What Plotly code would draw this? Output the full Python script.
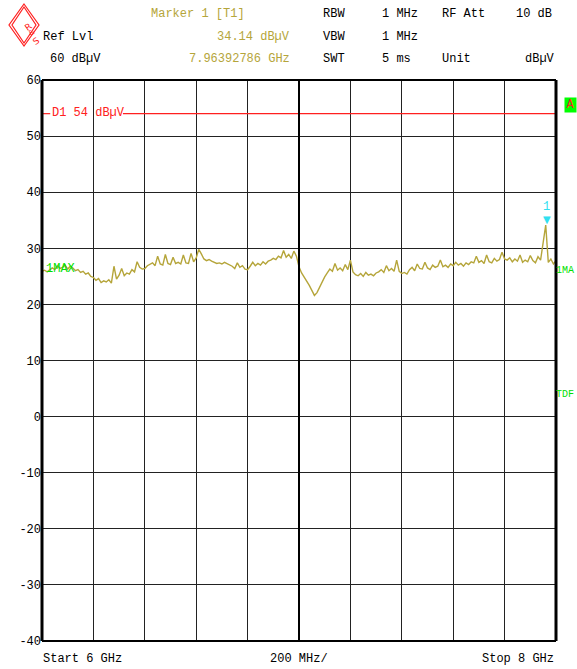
import numpy as np
import plotly.graph_objects as go

# ---------------- data ----------------
start_ghz = 6.0
stop_ghz = 8.0
y_min, y_max = -40, 60
y_ticks = [60, 50, 40, 30, 20, 10, 0, -10, -20, -30, -40]
display_line_db = 54
marker_freq_ghz = 7.96392786
marker_level = 34.14

level_dbuv = [
    25.9, 26.1, 25.8, 26.2, 26.5, 26.2, 26.9, 26.4, 26.6, 27.0,
    26.3, 26.8, 26.5, 26.0, 26.2, 25.7, 25.9, 25.4, 25.6, 25.0,
    24.8, 24.3, 24.6, 23.9, 24.2, 24.0, 24.4, 23.8, 26.8, 24.5,
    25.2, 26.4, 25.1, 25.6, 25.4, 26.2, 25.8, 27.6, 26.6, 26.3,
    26.4, 26.9, 27.1, 27.4, 26.9, 28.6, 27.2, 27.0, 28.9, 27.3,
    27.1, 28.4, 27.3, 27.5, 27.2, 28.8, 27.4, 27.3, 29.1, 27.6,
    28.3, 29.8, 29.0, 28.1, 27.8, 28.0, 27.7, 27.5, 27.3, 27.4,
    27.2, 27.5, 27.3, 27.1, 26.8, 26.4, 27.4, 26.6, 26.9, 26.3,
    26.2, 26.8, 27.5, 26.9, 27.3, 27.0, 27.6, 27.2, 27.7, 27.9,
    28.2, 28.0, 28.6, 28.3, 29.6, 28.4, 28.9, 28.2, 29.5, 28.6,
    26.7, 25.6, 24.9, 24.2, 23.4, 22.5, 21.6, 22.1, 23.1, 24.2,
    24.9, 25.6, 26.3, 25.9, 27.3, 26.1, 26.5, 26.0, 27.1, 26.2,
    27.9, 25.8, 25.3, 25.1, 25.5, 25.0, 25.7, 25.2, 25.4, 25.1,
    25.6, 25.8, 26.2, 25.7, 26.9, 26.0, 26.4, 25.9, 27.9, 25.9,
    25.5, 25.7, 25.4, 26.2, 26.6, 26.0, 27.2, 26.4, 26.3, 27.5,
    26.5, 26.2, 27.0, 26.6, 26.8, 27.9, 26.7, 27.0, 26.6, 27.2,
    26.9, 27.5, 27.0, 27.3, 26.8, 27.4, 27.1, 27.6, 27.4, 28.6,
    27.5, 27.8, 27.3, 28.8, 27.6, 27.4, 28.2, 27.7, 28.0, 29.3,
    28.1, 27.9, 28.3, 27.6, 28.1, 27.7, 28.8, 27.5, 27.9, 27.6,
    28.7, 27.8, 27.4, 28.5, 27.9, 31.0, 34.14, 27.5, 28.1, 27.2,
    27.8,
]
freq_ghz = np.linspace(start_ghz, stop_ghz, len(level_dbuv))

# ---------------- layout helpers ----------------
W, H = 577, 669
L, R, T, B = 42, 556, 80, 641


def px(x):
    return (x - L) / (R - L)


def py(y):
    return (B - y) / (B - T)


FONT = "Liberation Mono, DejaVu Sans Mono, monospace"
OLIVE = "#b5a53a"
BLACK = "#000000"
GREEN = "#00e000"
RED = "#ff2020"
CYAN = "#30e0f0"

fig = go.Figure()

# display line D1
fig.add_trace(go.Scatter(
    x=[start_ghz, start_ghz + 0.032, None, start_ghz + 0.315, stop_ghz],
    y=[display_line_db, display_line_db, None, display_line_db, display_line_db],
    mode="lines", line=dict(color=RED, width=1.2), hoverinfo="skip", showlegend=False,
))

# trace
fig.add_trace(go.Scatter(
    x=freq_ghz, y=level_dbuv, mode="lines",
    line=dict(color=OLIVE, width=1.4), showlegend=False,
))

ann = []


def text(x, y, s, color=BLACK, xanchor="left", size=12, yanchor="middle", **kw):
    ann.append(dict(x=px(x), y=py(y), xref="paper", yref="paper", text=s,
                    showarrow=False, xanchor=xanchor, yanchor=yanchor,
                    font=dict(family=FONT, size=size, color=color), **kw))


# header
text(149, 14, "Marker 1 [T1]", OLIVE)
text(41, 37, "Ref Lvl")
text(292, 37, "34.14 dBµV", OLIVE, xanchor="right")
text(48, 59, "60 dBµV")
text(292, 59, "7.96392786 GHz", OLIVE, xanchor="right")
text(321, 14, "RBW")
text(380, 14, "1 MHz")
text(440, 14, "RF Att")
text(514, 14, "10 dB")
text(321, 37, "VBW")
text(380, 37, "1 MHz")
text(321, 59, "SWT")
text(380, 59, "5 ms")
text(440, 59, "Unit")
text(557, 59, "dBµV", xanchor="right")

# footer
text(41, 659, "Start 6 GHz")
text(299, 659, "200 MHz/", xanchor="center")
text(556, 659, "Stop 8 GHz", xanchor="right")

# in-plot labels
text(50, 113, "D1 54 dBµV", RED)
text(44, 269, "1MAX", GREEN)
text(576, 270, "1MA", GREEN, xanchor="right", size=10)
text(576, 394, "TDF", GREEN, xanchor="right", size=10)
ann.append(dict(x=px(570), y=py(105), xref="paper", yref="paper", text="A",
                showarrow=False, xanchor="center", yanchor="middle",
                font=dict(family=FONT, size=12, color="#ff2020"),
                bgcolor="#00ff00", width=11, height=14, borderpad=0))

# marker symbol
ann.append(dict(x=marker_freq_ghz, y=marker_level, xref="x", yref="y", text="▼",
                showarrow=False, xanchor="center", yanchor="bottom", yshift=-2,
                font=dict(family="DejaVu Sans", size=10, color=CYAN)))
ann.append(dict(x=marker_freq_ghz, y=marker_level, xref="x", yref="y", text="1",
                showarrow=False, xanchor="center", yanchor="bottom", yshift=9,
                font=dict(family=FONT, size=12, color=CYAN)))

# R&S logo
ann.append(dict(x=px(20), y=py(18), xref="paper", yref="paper", text="R",
                showarrow=False, textangle=-35,
                font=dict(family="DejaVu Sans", size=9, color=RED)))
ann.append(dict(x=px(24), y=py(25), xref="paper", yref="paper", text="&",
                showarrow=False, textangle=-35,
                font=dict(family="DejaVu Sans", size=7, color=RED)))
ann.append(dict(x=px(28), y=py(32), xref="paper", yref="paper", text="S",
                showarrow=False, textangle=-35,
                font=dict(family="DejaVu Sans", size=9, color=RED)))

shapes = []
# logo diamonds
for d in (0, 3):
    cx, cy, hw, hh = 24, 25, 15 - d, 21 - d
    shapes.append(dict(type="path", xref="paper", yref="paper",
                       path=f"M {px(cx)} {py(cy - hh)} L {px(cx + hw)} {py(cy)} L {px(cx)} {py(cy + hh)} L {px(cx - hw)} {py(cy)} Z",
                       line=dict(color=RED, width=1.2)))

# frame and center line
shapes.append(dict(type="line", xref="paper", yref="paper", x0=px(42), x1=px(42), y0=0, y1=1,
                   line=dict(color=BLACK, width=3)))
shapes.append(dict(type="line", xref="paper", yref="paper", x0=1, x1=1, y0=0, y1=1,
                   line=dict(color=BLACK, width=3)))
shapes.append(dict(type="line", xref="paper", yref="paper", x0=0, x1=1, y0=0, y1=0,
                   line=dict(color=BLACK, width=2)))
shapes.append(dict(type="line", xref="paper", yref="paper", x0=0, x1=1, y0=1, y1=1,
                   line=dict(color=BLACK, width=2)))
shapes.append(dict(type="line", xref="x", yref="paper", x0=(start_ghz + stop_ghz) / 2,
                   x1=(start_ghz + stop_ghz) / 2, y0=0, y1=1,
                   line=dict(color=BLACK, width=2)))

fig.update_layout(
    width=W, height=H,
    margin=dict(l=L, r=W - R, t=T, b=H - B, autoexpand=False),
    paper_bgcolor="white", plot_bgcolor="white",
    showlegend=False,
    annotations=ann, shapes=shapes,
    xaxis=dict(range=[start_ghz, stop_ghz], tick0=start_ghz, dtick=(stop_ghz - start_ghz) / 10,
               showgrid=True, gridcolor="#222", gridwidth=1, showticklabels=False,
               zeroline=False, showline=False, ticks=""),
    yaxis=dict(range=[y_min, y_max], tickvals=y_ticks, ticktext=[str(v) for v in y_ticks],
               showgrid=True, gridcolor="#222", gridwidth=1, zeroline=False,
               showline=False, ticks="", ticklen=0,
               tickfont=dict(family=FONT, size=12, color=BLACK)),
)

fig.write_html("out.html", config={"displayModeBar": False},
               post_script="document.body.style.margin='0';document.body.style.overflow='hidden';")
